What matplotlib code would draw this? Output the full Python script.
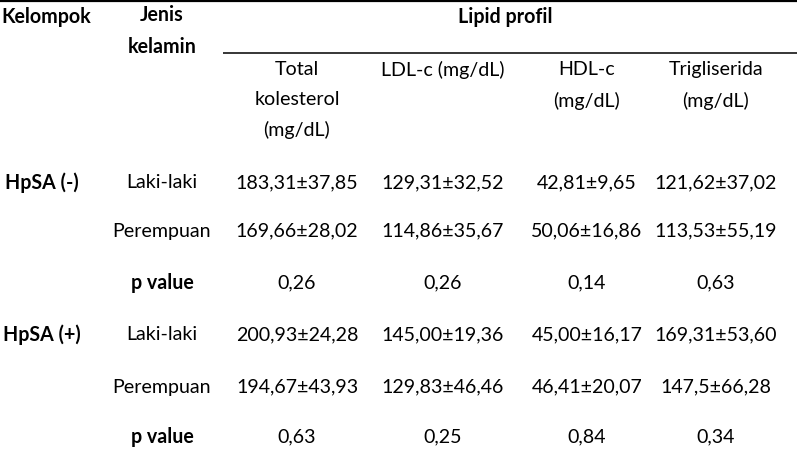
import matplotlib
matplotlib.use("Agg")
import matplotlib.pyplot as plt

# Data
header_top = ["Kelompok", "Jenis\nkelamin", "Lipid profil"]
lipid_cols = ["Total\nkolesterol\n(mg/dL)", "LDL-c (mg/dL)", "HDL-c\n(mg/dL)", "Trigliserida\n(mg/dL)"]
groups = ["HpSA (-)", "HpSA (+)"]
sexes = ["Laki-laki", "Perempuan", "p value"]
values_neg = [
    ["183,31±37,85", "129,31±32,52", "42,81±9,65", "121,62±37,02"],
    ["169,66±28,02", "114,86±35,67", "50,06±16,86", "113,53±55,19"],
    ["0,26", "0,26", "0,14", "0,63"],
]
values_pos = [
    ["200,93±24,28", "145,00±19,36", "45,00±16,17", "169,31±53,60"],
    ["194,67±43,93", "129,83±46,46", "46,41±20,07", "147,5±66,28"],
    ["0,63", "0,25", "0,84", "0,34"],
]

plt.rcParams["font.family"] = ["Lato", "DejaVu Sans"]
FS = 14.1

fig = plt.figure(figsize=(7.97, 4.72), dpi=100)
ax = fig.add_axes([0, 0, 1, 1])
ax.set_xlim(0, 797)
ax.set_ylim(472, 0)
ax.axis("off")

# column centres (px)
x_group = 42
x_sex = 162
x_vals = [297, 443, 587, 716]

# rules
ax.plot([0, 797], [1, 1], color="black", lw=1.6, solid_capstyle="butt")
ax.plot([223, 797], [53, 53], color="black", lw=1.1, solid_capstyle="butt")

# header (Kelompok kept just inside the left edge)
ax.text(1, 17, header_top[0], ha="left", va="center", fontsize=FS, fontweight="bold")
ax.text(x_sex, 31, header_top[1], ha="center", va="center", fontsize=FS,
        fontweight="bold", linespacing=1.8)
ax.text(505, 17, header_top[2], ha="center", va="center", fontsize=FS, fontweight="bold")
for x, lab in zip(x_vals, lipid_cols):
    ax.text(x, 61, lab, ha="center", va="top", fontsize=FS, linespacing=1.9)

# body
row_y = [[183, 231, 283], [335, 387, 437]]
for g, ys, vals in zip(groups, row_y, [values_neg, values_pos]):
    ax.text(x_group, ys[0], g, ha="center", va="center", fontsize=FS, fontweight="bold")
    for y, s, rowvals in zip(ys, sexes, vals):
        bold = "bold" if s == "p value" else "normal"
        ax.text(x_sex, y, s, ha="center", va="center", fontsize=FS, fontweight=bold)
        for x, v in zip(x_vals, rowvals):
            ax.text(x, y, v, ha="center", va="center", fontsize=FS)

fig.savefig("out.png", dpi=100)
